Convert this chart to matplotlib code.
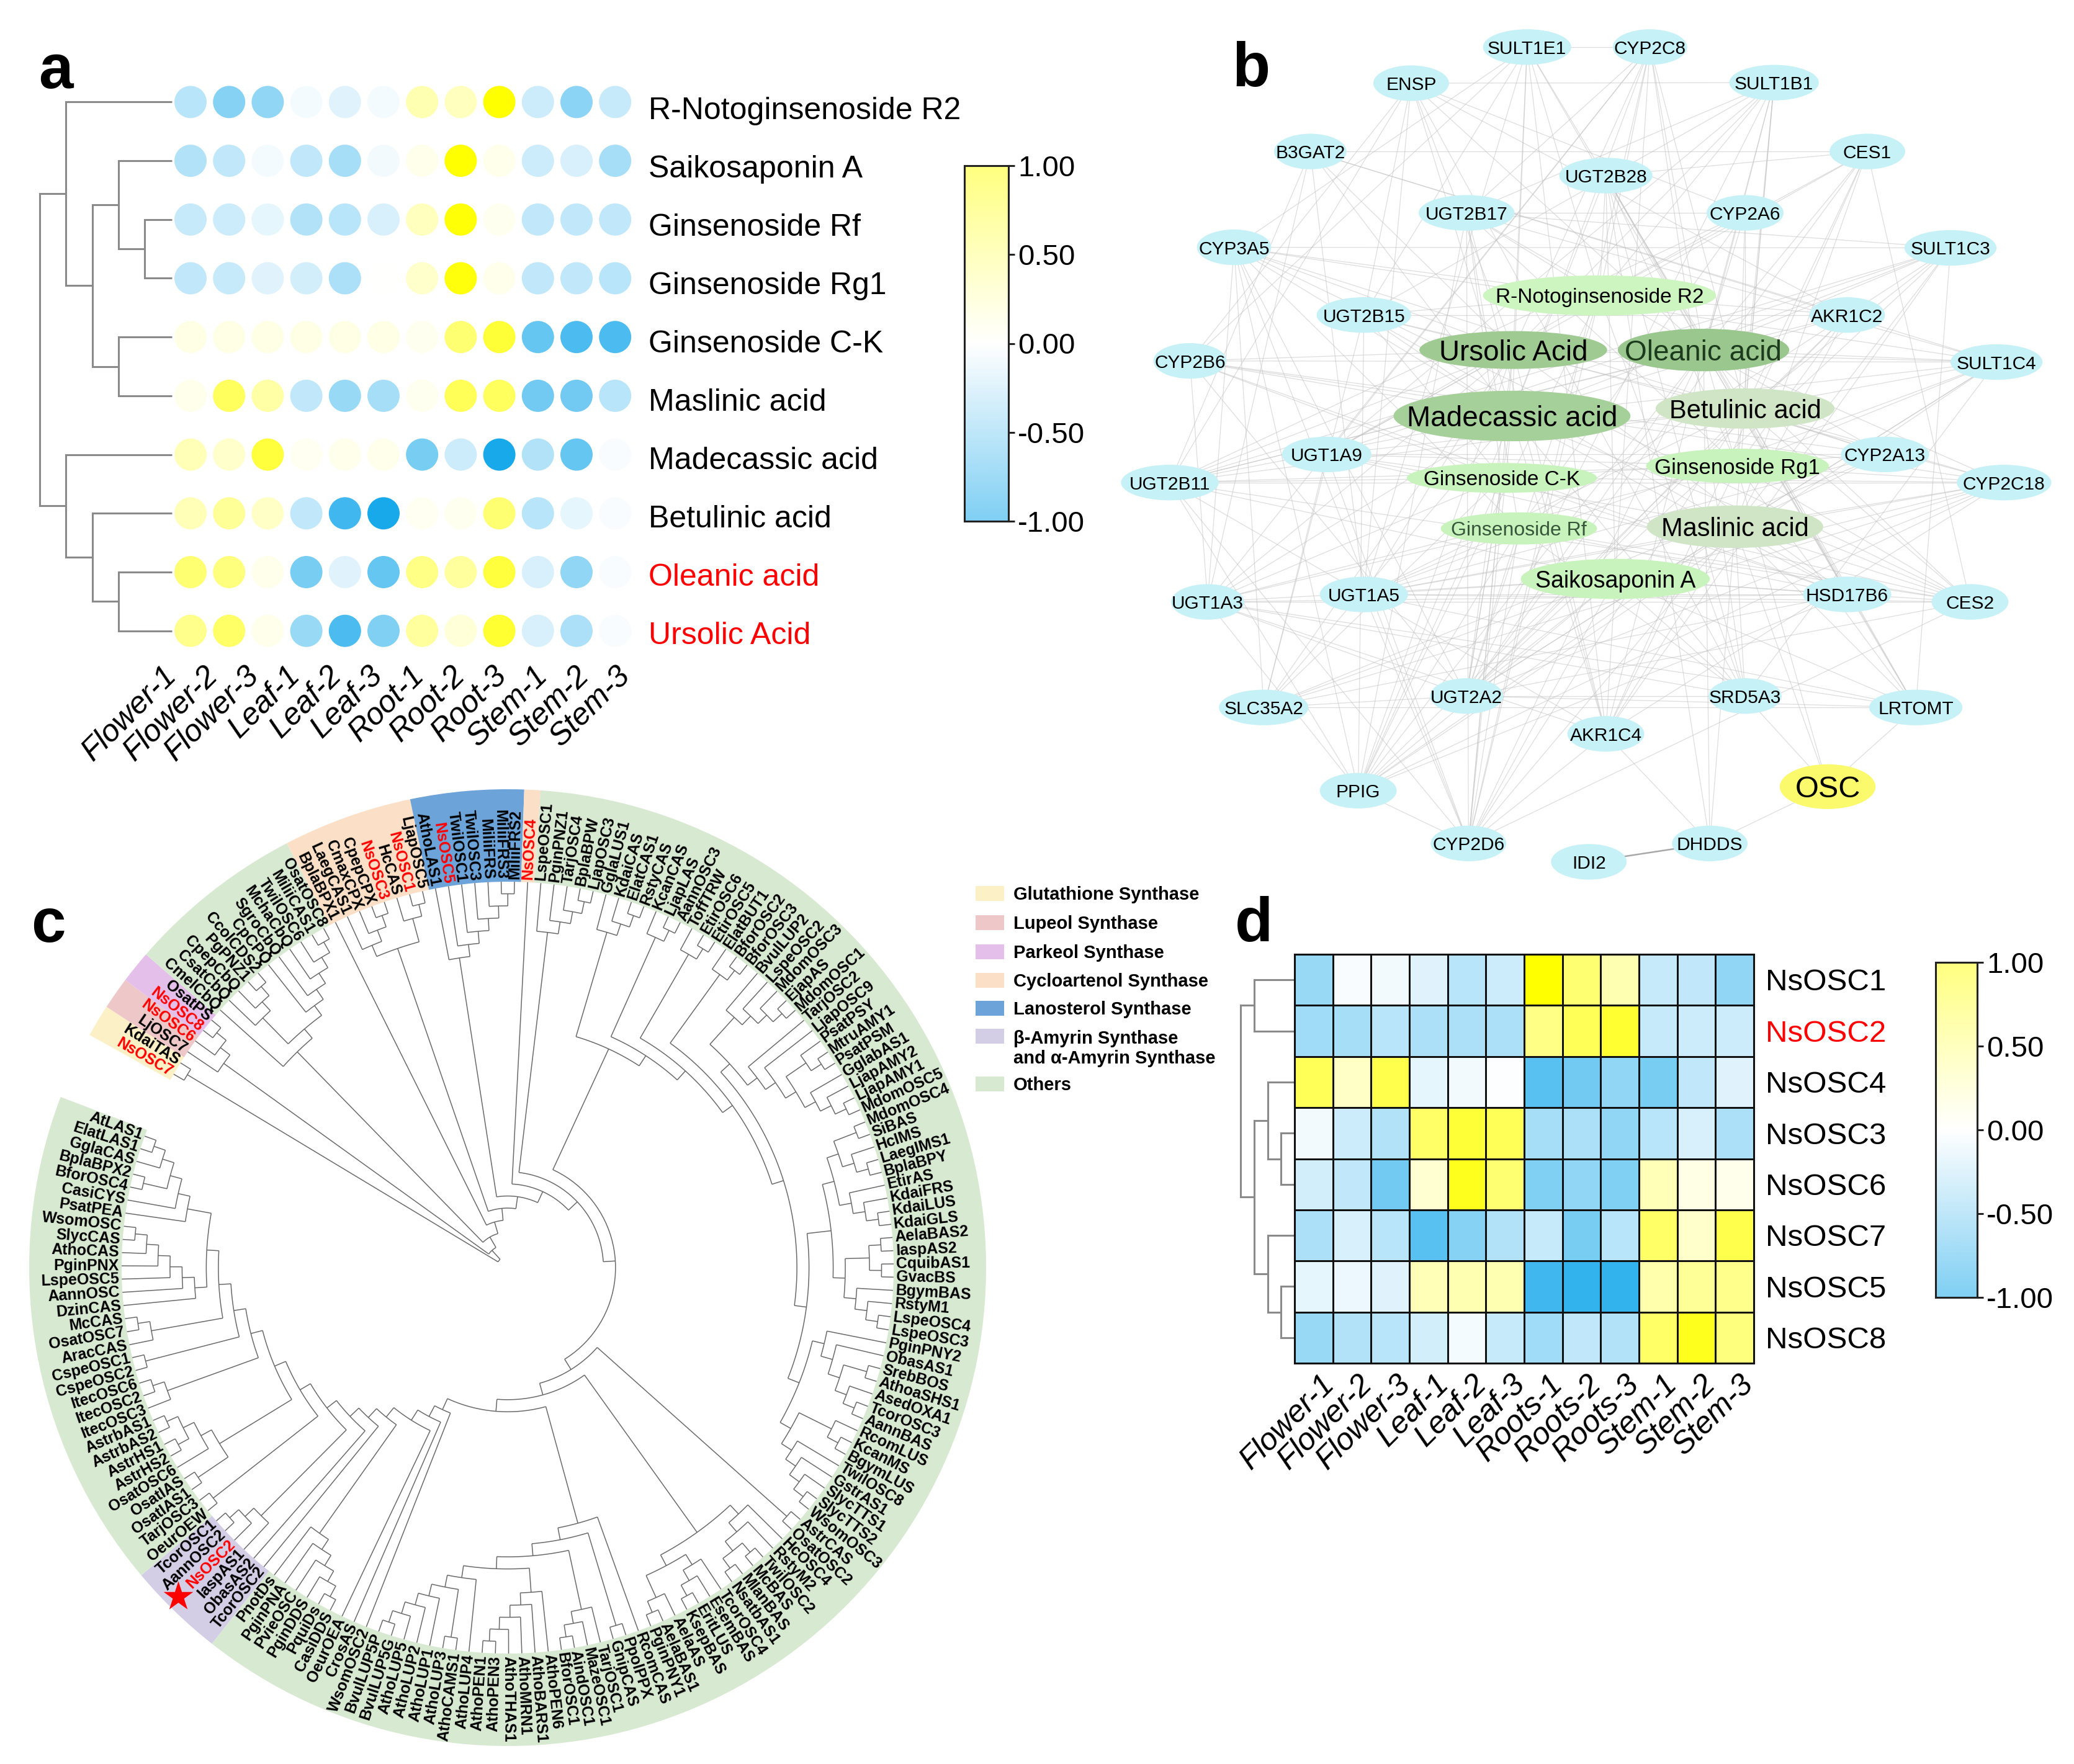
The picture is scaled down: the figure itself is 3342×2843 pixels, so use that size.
import re
import numpy as np
import matplotlib
matplotlib.use('Agg')
import matplotlib.pyplot as plt
from matplotlib.collections import LineCollection
from matplotlib.colors import LinearSegmentedColormap
from matplotlib.patches import Ellipse, Rectangle, Wedge

plt.rcParams['font.family'] = ['Liberation Sans', 'DejaVu Sans']

W, H = 3342, 2843
heat = LinearSegmentedColormap.from_list('heat', ['#00a0e9', '#ffffff', '#ffff00'])
VMIN, VMAX = -2, 2
BAR_TICKS = [1, 0.5, 0, -0.5, -1]
BAR_LABELS = ['1.00', '0.50', '0.00', '-0.50', '-1.00']

# panel a
tissues_a = ['Flower-1', 'Flower-2', 'Flower-3', 'Leaf-1', 'Leaf-2', 'Leaf-3',
             'Root-1', 'Root-2', 'Root-3', 'Stem-1', 'Stem-2', 'Stem-3']
metabolites = ['R-Notoginsenoside R2', 'Saikosaponin A', 'Ginsenoside Rf', 'Ginsenoside Rg1',
               'Ginsenoside C-K', 'Maslinic acid', 'Madecassic acid', 'Betulinic acid',
               'Oleanic acid', 'Ursolic Acid']
notoginsenoside_r2 = [-.55, -.95, -.85, -.08, -.25, -.08, .6, .5, 2.0, -.4, -.9, -.45]
saikosaponin_a = [-.6, -.5, -.08, -.5, -.7, -.1, .15, 2.0, .15, -.4, -.3, -.7]
ginsenoside_rf = [-.45, -.4, -.2, -.6, -.55, -.3, .5, 1.95, .12, -.5, -.5, -.5]
ginsenoside_rg1 = [-.5, -.45, -.25, -.35, -.65, 0, .4, 1.9, .15, -.5, -.5, -.55]
ginsenoside_ck = [.2, .2, .2, .2, .2, .2, .12, 1.1, 1.55, -1.2, -1.4, -1.4]
maslinic_acid = [.15, 1.25, .7, -.5, -.8, -.7, .12, 1.3, 1.25, -1.1, -1.1, -.55]
madecassic_acid = [.55, .4, 1.5, .1, .15, .15, -1.05, -.4, -1.8, -.6, -1.2, -.05]
betulinic_acid = [.55, .8, .45, -.5, -1.5, -1.8, .1, .12, 1.1, -.55, -.2, -.05]
oleanic_acid = [1.1, 1.0, .15, -1.05, -.25, -1.2, .95, .75, 1.5, -.3, -.85, -.05]
ursolic_acid = [.9, 1.2, .15, -.8, -1.4, -1.0, .75, .3, 1.6, -.3, -.65, -.05]
tree_a = [[0, [[1, [2, 3]], [4, 5]]], [6, [7, [8, 9]]]]

# panel d
tissues_d = ['Flower-1', 'Flower-2', 'Flower-3', 'Leaf-1', 'Leaf-2', 'Leaf-3',
             'Roots-1', 'Roots-2', 'Roots-3', 'Stem-1', 'Stem-2', 'Stem-3']
genes_d = ['NsOSC1', 'NsOSC2', 'NsOSC4', 'NsOSC3', 'NsOSC6', 'NsOSC7', 'NsOSC5', 'NsOSC8']
nsosc1 = [-.8, -.05, -.1, -.25, -.55, -.4, 2.0, 1.1, .6, -.45, -.5, -.85]
nsosc2 = [-.75, -.7, -.55, -.65, -.65, -.65, .95, 1.3, 1.6, -.45, -.4, -.4]
nsosc4 = [1.3, .45, 1.4, -.2, -.1, -.03, -1.3, -1.1, -.85, -1.05, -.5, -.25]
nsosc3 = [-.1, -.4, -.6, 1.2, 1.55, 1.3, -.7, -.65, -.85, -.55, -.3, -.65]
nsosc6 = [-.35, -.5, -1.1, .35, 1.75, 1.1, -1.0, -.85, -1.0, .55, .2, .15]
nsosc7 = [-.65, -.3, -.55, -1.3, -.95, -.6, -.45, -1.05, -.55, 1.2, .4, 1.4]
nsosc5 = [-.2, -.15, -.25, .55, .6, .6, -1.5, -1.6, -1.6, .65, .8, .9]
nsosc8 = [-.8, -.6, -.55, -.35, -.08, -.45, -.75, -.5, -.6, 1.2, 1.75, 1.0]
tree_d = [[0, 1], [[2, [3, 4]], [5, [6, 7]]]]

# panel b: name, layout x, y, width
target_nodes = [
    ('SULT1E1', 700, 82, 140), ('CYP2C8', 895, 82, 118), ('ENSP', 516, 145, 120),
    ('SULT1B1', 1092, 144, 142), ('B3GAT2', 356, 264, 115), ('CES1', 1240, 264, 120),
    ('UGT2B28', 825, 306, 148), ('UGT2B17', 604, 371, 152), ('CYP2A6', 1046, 371, 122),
    ('CYP3A5', 235, 431, 118), ('SULT1C3', 1372, 432, 146), ('UGT2B15', 441, 549, 150),
    ('AKR1C2', 1208, 549, 120), ('CYP2B6', 165, 629, 116), ('SULT1C4', 1445, 631, 146),
    ('UGT1A9', 382, 792, 142), ('CYP2A13', 1268, 792, 140), ('UGT2B11', 133, 841, 155),
    ('CYP2C18', 1457, 841, 150), ('UGT1A3', 193, 1049, 116), ('UGT1A5', 441, 1036, 140),
    ('HSD17B6', 1208, 1036, 140), ('CES2', 1403, 1049, 122), ('SLC35A2', 282, 1233, 142),
    ('UGT2A2', 604, 1213, 116), ('SRD5A3', 1046, 1213, 116), ('LRTOMT', 1317, 1233, 148),
    ('AKR1C4', 825, 1279, 122), ('PPIG', 432, 1378, 122), ('CYP2D6', 607, 1470, 120),
    ('DHDDS', 990, 1470, 120), ('IDI2', 798, 1502, 120)]
# name, x, y, width, height, fill, font size, text colour
compound_nodes = [
    ('R-Notoginsenoside R2', 815, 515, 370, 70, '#ccf5c0', 24, 'black'),
    ('Ursolic Acid', 678, 610, 298, 66, '#9fcb93', 33, 'black'),
    ('Oleanic acid', 980, 610, 272, 74, '#9ac78e', 33, '#1c3a1c'),
    ('Madecassic acid', 676, 725, 376, 88, '#a6d09a', 33, 'black'),
    ('Betulinic acid', 1046, 712, 284, 70, '#cfe5c6', 30, 'black'),
    ('Ginsenoside Rg1', 1034, 812, 290, 60, '#c8f3bc', 25, 'black'),
    ('Ginsenoside C-K', 660, 833, 302, 52, '#c8f3bc', 24, 'black'),
    ('Ginsenoside Rf', 687, 921, 248, 56, '#c8f3bc', 23, '#36563a'),
    ('Maslinic acid', 1030, 918, 280, 74, '#cfe5c6', 30, 'black'),
    ('Saikosaponin A', 840, 1009, 300, 70, '#c8f3bc', 27, 'black')]
osc_node = ('OSC', 1177, 1371, 152, 78)

r2_targets = 'UGT2B28 UGT2B17 CYP2C8 SULT1E1 SULT1B1 CES1 CYP2A6 AKR1C2 UGT1A9 UGT2A2 CYP2D6 PPIG UGT2B15 CYP3A5 SRD5A3'.split()
ursolic_targets = 'SULT1E1 ENSP B3GAT2 CYP3A5 CYP2B6 UGT2B11 UGT1A3 UGT1A5 UGT2A2 CYP2D6 PPIG SLC35A2 CYP2C8 SULT1B1 UGT2B15 UGT1A9 AKR1C4 HSD17B6 CYP2C18 SULT1C4'.split()
oleanic_targets = 'SULT1B1 CYP2C8 SULT1E1 CES1 SULT1C3 SULT1C4 CYP2A13 CYP2C18 HSD17B6 CES2 LRTOMT UGT2B28 CYP2A6 UGT2B17 ENSP UGT2A2 CYP2D6 UGT2B11 DHDDS PPIG'.split()
madecassic_targets = 'ENSP B3GAT2 CYP3A5 CYP2B6 UGT2B11 UGT1A3 SLC35A2 PPIG CYP2D6 UGT2A2 AKR1C4 SRD5A3 HSD17B6 CES2 SULT1C3 SULT1C4 AKR1C2 CYP2C8 SULT1E1 UGT2B28 UGT2B15'.split()
betulinic_targets = 'CYP2C8 SULT1B1 CES1 CYP2A6 SULT1C3 SULT1C4 CYP2C18 CYP2A13 CES2 LRTOMT HSD17B6 UGT1A9 UGT2B15 UGT2B11 UGT1A5 CYP2D6 UGT2A2 SULT1E1'.split()
rg1_targets = 'UGT2B28 UGT2B17 UGT1A9 UGT2B11 SULT1C4 CYP2C18 CES2 AKR1C2 CYP2A6 SULT1B1 AKR1C4 UGT1A3 LRTOMT'.split()
ck_targets = 'UGT2B15 UGT1A9 UGT2B11 CYP2B6 UGT1A3 CYP2D6 UGT2A2 PPIG SLC35A2 UGT2B17 CYP2C18 CYP2A13 HSD17B6'.split()
rf_targets = 'UGT2B17 UGT2A2 CYP2D6 UGT1A5 UGT1A3 PPIG SRD5A3 HSD17B6 CYP2A6 CYP3A5 SULT1C3 CES2'.split()
maslinic_targets = 'SULT1B1 CES1 SULT1C3 SULT1C4 AKR1C2 CYP2A13 CYP2C18 CES2 HSD17B6 LRTOMT DHDDS SRD5A3 AKR1C4 UGT1A5 UGT2B15 UGT1A9 UGT2A2 CYP2D6 PPIG'.split()
saiko_targets = 'UGT2A2 UGT1A5 UGT1A3 CYP2D6 PPIG SLC35A2 AKR1C4 SRD5A3 LRTOMT CES2 HSD17B6 CYP2C18 UGT2B11 UGT2B28 CYP2C8'.split()
chord_links = ('UGT1A3-CES2 UGT2B11-CYP2C18 CYP2B6-SULT1C4 UGT1A5-HSD17B6 UGT1A9-CYP2A13 UGT2B15-AKR1C2 '
               'UGT2B17-CYP2A6 CYP3A5-SULT1C3 B3GAT2-CES1 ENSP-SULT1B1 SULT1E1-CYP2C8 SLC35A2-LRTOMT '
               'UGT2A2-SRD5A3 PPIG-CYP2D6 PPIG-UGT2B17 PPIG-UGT2B15 CYP2D6-UGT2B17 CYP2D6-UGT1A9 CYP2D6-UGT1A5 '
               'CYP2D6-CYP2C8 SLC35A2-UGT1A9 SLC35A2-UGT2B15 SLC35A2-CYP3A5 UGT1A3-CYP2B6 UGT1A3-CYP3A5 '
               'UGT1A3-B3GAT2 UGT2B11-B3GAT2 UGT2B11-ENSP CYP2B6-ENSP CYP2B6-SULT1E1 CYP3A5-SULT1E1 '
               'B3GAT2-UGT1A5 ENSP-UGT1A5 ENSP-UGT2B15 SULT1E1-UGT2B15 CYP2C8-UGT2B17 CYP2C8-SRD5A3 '
               'SULT1B1-UGT2B17 SULT1B1-UGT1A9 SULT1B1-AKR1C4 CES1-UGT2B28 CES1-AKR1C4 CES1-CES2 '
               'SULT1C3-LRTOMT SULT1C3-UGT2A2 SULT1C3-AKR1C4 SULT1C4-UGT2A2 SULT1C4-SRD5A3 SULT1C4-PPIG '
               'CYP2C18-AKR1C4 CYP2C18-UGT1A5 CYP2C18-PPIG CES2-CYP2D6 CES2-UGT2A2 LRTOMT-UGT2A2 LRTOMT-UGT1A3 '
               'HSD17B6-UGT2B28 HSD17B6-UGT1A3 AKR1C2-UGT2A2 AKR1C2-PPIG CYP2A13-UGT1A5 CYP2A13-SLC35A2 '
               'DHDDS-UGT2B28 DHDDS-AKR1C4 AKR1C4-CYP2D6 AKR1C4-UGT2B17 SRD5A3-UGT2B28 '
               'UGT2B11-SULT1C3 UGT2B11-AKR1C2 UGT2B11-CYP2A6 UGT2B11-CES2 CYP2B6-CYP2A13 CYP2B6-CYP2C18 '
               'CYP2B6-HSD17B6 CYP3A5-CYP2A13 CYP3A5-SULT1C4 CYP3A5-CES2 B3GAT2-SULT1C4 B3GAT2-AKR1C2 '
               'ENSP-CYP2A6 ENSP-AKR1C2 ENSP-SRD5A3 SULT1E1-AKR1C4 SULT1E1-UGT1A5 CYP2C8-UGT1A9 CYP2C8-UGT1A3 '
               'SULT1B1-UGT2A2 SULT1B1-UGT2B15 CES1-UGT1A9 CES1-UGT2A2 SULT1C3-UGT1A9 SULT1C3-UGT2B17 '
               'SULT1C4-UGT1A5 SULT1C4-UGT2B17 CYP2C18-UGT2A2 CES2-UGT1A9 LRTOMT-UGT1A5 LRTOMT-UGT2B28 '
               'SRD5A3-UGT1A3 AKR1C4-UGT1A3 AKR1C4-UGT2B11 UGT2A2-CYP2B6 UGT2A2-CYP3A5 PPIG-UGT1A3 PPIG-CYP3A5 '
               'PPIG-UGT2B11 PPIG-HSD17B6 CYP2D6-UGT2B11 CYP2D6-CYP3A5 SLC35A2-UGT2A2 SLC35A2-CYP2C18 '
               'SLC35A2-HSD17B6 UGT1A3-UGT2A2 UGT1A5-CES2').split()
osc_links = ['SRD5A3', 'DHDDS', 'Maslinic acid', 'Oleanic acid', 'LRTOMT']

# panel c: clockwise from NsOSC7
G1 = '(NsOSC7,KdaiTAS)'
G2 = '(LjOSC7,(NsOSC6,(NsOSC8,OsatPS)))'
G3 = ('(CmelCbQ,((CsatCbQ,(CpepCbQ,(PgPNZ1,CcolCDS2))),'
      '(CpCPQ,(SgroCbQ,(MchaCbQ,(TwilOSC6,(MiliiCAS1,OsatOSC8)))))))')
CYC = '((LaegCAS1,(CmaxCPX,(CpepCPX,NsOSC3))),(HcCAS,(NsOSC1,LjapOSC5)))'
LANO = '(AthoLAS1,(NsOSC5,(TwilOSC1,(TwilOSC3,(MiliiFRS,(MiliiFRS3,MiliiFRS2))))))'
LSPE = '(LspeOSC1,(PginPNZ1,(TarjOSC4,(BplaBPW,LjapOSC3))))'
XA = '(GglaLUS1,(KdaiCAS,(ElatCAS1,RstyCAS)))'
XB = '(KcanCAS,(LjapLAS,AannOSC3))'
XC = '(ToffTRW,(EtirOSC6,EtirOSC5))'
XD = '(ElatBUT1,(BforOSC2,BforOSC3))'
XE = ('((BvulLUP2,(LspeOSC2,(MdomOSC3,(EjapAS,MdomOSC1)))),'
      '(TarjOSC2,(LjapOSC9,((PsatPSY,(MtruAMY1,PsatPSM)),(GglabAS1,(LjapAMY2,(LjapAMY1,MdomOSC5)))))))')
TA = ('((((MdomOSC4,SiBAS),(HcIMS,(LaegIMS1,BplaBPY))),(EtirAS,(KdaiFRS,(KdaiLUS,KdaiGLS)))),'
      '(((AelaBAS2,IaspAS2),(CquibAS1,GvacBS)),(BgymBAS,(RstyM1,(LspeOSC4,LspeOSC3)))))')
TB = '(PginPNY2,(ObasAS1,((SrebBOS,AthoaSHS1),(AsedOXA1,(TcorOSC3,AannBAS)))))'
TC = '((RcomLUS,(KcanMS,BgymLUS)),(TwilOSC8,(GstrAS1,(SlycTTS1,(SlycTTS2,WsomOSC3)))))'
V1 = '(AstrCAS,OsatOSC2)'
V2 = ('((HcOSC4,(RstyM2,((TwilOSC2,McBAS),(MlanBAS,NsatbAS1)))),'
      '((TcorOSC4,(EsemBAS,(EritLUS,KsepBAS))),(AelaAS,(AelaBAS1,PginPNY1))))')
TARJ = '(TarjOSC1,(MazeOSC1,(AindOSC1,BforOSC1)))'
PEN = '(AthoPEN6,(AthoBARS1,(AthoMRN1,(AthoTHAS1,(AthoPEN3,AthoPEN1)))))'
LUP = '(AthoLUP4,((AthoCAMS1,AthoLUP3),(AthoLUP1,(AthoLUP2,(AthoLUP5,(BvulLUP5G,BvulLUP5P))))))'
DDS = '(((((CasiDDS,PquiDs),PginDDS),PvieOSC),PginPNA),PnotDs)'
Z6 = '(IaspAS1,(NsOSC2,(AannOSC2,TcorOSC1)))'
Z7 = '(OeurOEW,TarjOSC3)'
Z8 = '((OsatIAS1,OsatIAS),(OsatOSC6,((AstrHS2,AstrHS1),(AstrbAS2,AstrbAS1))))'
Z9 = '(ItecOSC3,(ItecOSC2,ItecOSC6))'
Z10 = '(CspeOSC2,CspeOSC1)'
Z11 = '(AracCAS,(OsatOSC7,McCAS))'
Z12 = '(DzinCAS,(AannOSC,(LspeOSC5,(PginPNX,(AthoCAS,(SlycCAS,WsomOSC))))))'
Z13 = '(PsatPEA,(CasiCYS,((BforOSC4,BplaBPX2),(GglaCAS,(ElatLAS1,AtLAS1)))))'

left_clade = (f'(WsomOSC2,(CrosAS,(OeurOEA,({DDS},(TcorOSC2,(ObasAS2,({Z6},({Z7},({Z8},({Z9},({Z10},({Z11},'
              f'({Z12},{Z13})))))))))))))')
bottom_clade = f'(RcomCAS,((PpolPPX,GnipCAS),({TARJ},({PEN},{LUP}))))'
upper_clade = f'({XA},({XB},({XC},({XD},({XE},({TA},({TB},{TC})))))))'
main_clade = f'(NsOSC4,({LSPE},({upper_clade},({V1},({V2},({bottom_clade},{left_clade}))))))'
tree_c = f'({G1},({G2},({G3},(BplaBPX1,({CYC},({LANO},{main_clade}))))))'

glutathione = ['NsOSC7', 'KdaiTAS']
lupeol = ['LjOSC7', 'NsOSC6']
parkeol = ['NsOSC8', 'OsatPS']
cycloartenol = ['BplaBPX1', 'LaegCAS1', 'CmaxCPX', 'CpepCPX', 'NsOSC3', 'HcCAS', 'NsOSC1', 'LjapOSC5', 'NsOSC4']
lanosterol = ['AthoLAS1', 'NsOSC5', 'TwilOSC1', 'TwilOSC3', 'MiliiFRS', 'MiliiFRS3', 'MiliiFRS2']
amyrin = ['TcorOSC2', 'ObasAS2', 'IaspAS1', 'NsOSC2', 'AannOSC2', 'TcorOSC1']
legend_names = ['Glutathione Synthase', 'Lupeol Synthase', 'Parkeol Synthase', 'Cycloartenol Synthase',
                'Lanosterol Synthase', 'β-Amyrin Synthase\nand α-Amyrin Synthase', 'Others']
legend_colors = ['#fcf0c6', '#eec8c8', '#e4bfea', '#fbdfc6', '#6ca3d8', '#d3cde6', '#d8e9d2']


def box(x0, y0, x1, y1):
    return fig.add_axes([x0 / W, 1 - y1 / H, (x1 - x0) / W, (y1 - y0) / H])


def dendro(ax, node, xs, color='#8a8a8a', lw=2.2, depth=0):
    # xs[depth] is where a node at this depth sits, xs[-1] is the leaf line
    if not isinstance(node, list):
        return xs[-1], node
    a = dendro(ax, node[0], xs, color, lw, depth + 1)
    b = dendro(ax, node[1], xs, color, lw, depth + 1)
    x = xs[depth]
    ax.plot([a[0], x, x, b[0]], [a[1], a[1], b[1], b[1]], color=color, lw=lw, clip_on=False,
            solid_capstyle='butt', solid_joinstyle='miter')
    return x, (a[1] + b[1]) / 2


def colorbar(x0, y0, x1, y1):
    ax = box(x0, y0, x1, y1)
    grad = np.linspace(1, -1, 256)[:, None]
    ax.imshow(grad, cmap=heat, vmin=VMIN, vmax=VMAX, extent=[0, 1, -1, 1], aspect='auto')
    ax.set_xticks([])
    ax.set_ylim(-1, 1)
    ax.yaxis.tick_right()
    ax.set_yticks(BAR_TICKS)
    ax.set_yticklabels(BAR_LABELS)
    ax.tick_params(axis='y', labelsize=34, length=7, width=2.2, pad=4, color='#222222')
    for s in ax.spines.values():
        s.set_linewidth(2.2)
        s.set_color('#222222')


fig = plt.figure(figsize=(W / 100, H / 100), dpi=100)

# a ---------------------------------------------------------------------------
ax = box(0, 80, 1040, 1060)
ax.set_xlim(-307 / 62.2, (1040 - 307) / 62.2)
ax.set_ylim((1060 - 164.4) / 94.7, (80 - 164.4) / 94.7)
ax.axis('off')
values_a = np.array([notoginsenoside_r2, saikosaponin_a, ginsenoside_rf, ginsenoside_rg1, ginsenoside_ck,
                     maslinic_acid, madecassic_acid, betulinic_acid, oleanic_acid, ursolic_acid])
cols, rows = np.meshgrid(range(12), range(10))
ax.scatter(cols, rows, c=values_a, cmap=heat, vmin=VMIN, vmax=VMAX, s=1400, linewidths=0)
dendro(ax, tree_a, [(p - 307) / 62.2 for p in (64, 106, 149, 191, 233, 277)])
colorbar(1554, 267, 1625, 840)

# d ---------------------------------------------------------------------------
ax = box(2086, 1538, 2826, 2197)
values_d = np.array([nsosc1, nsosc2, nsosc4, nsosc3, nsosc6, nsosc7, nsosc5, nsosc8])
ax.pcolormesh(values_d, cmap=heat, vmin=VMIN, vmax=VMAX, edgecolors='#111111', linewidth=2.0)
ax.set_ylim(8, 0)
ax.set_xticks([])
ax.set_yticks([])
for s in ax.spines.values():
    s.set_linewidth(2.2)
    s.set_color('#111111')
dendro(ax, tree_d, [(p - 2086) / 61.67 for p in (1999, 2021, 2043, 2064, 2086)])
ax.set_xlim(0, 12)
# leaves sit on cell centres
for ln in ax.lines:
    ln.set_ydata(np.array(ln.get_ydata()) + 0.5)
colorbar(3119, 1551, 3186, 2091)

# b ---------------------------------------------------------------------------
ax = box(1750, 0, 3342, 1450)
ax.set_xlim(0, 1568)
ax.set_ylim(1568, 0)
ax.axis('off')
pos = {n: (x, y) for n, x, y, w in target_nodes}
pos.update({c[0]: (c[1], c[2]) for c in compound_nodes})
pos['OSC'] = (osc_node[1], osc_node[2])
compound_targets = [r2_targets, ursolic_targets, oleanic_targets, madecassic_targets, betulinic_targets,
                    rg1_targets, ck_targets, rf_targets, maslinic_targets, saiko_targets]
compound_order = ['R-Notoginsenoside R2', 'Ursolic Acid', 'Oleanic acid', 'Madecassic acid', 'Betulinic acid',
                  'Ginsenoside Rg1', 'Ginsenoside C-K', 'Ginsenoside Rf', 'Maslinic acid', 'Saikosaponin A']
edges = [(pos[c], pos[t]) for c, ts in zip(compound_order, compound_targets) for t in ts]
edges += [(pos[p.split('-')[0]], pos[p.split('-')[1]]) for p in chord_links]
edges += [(pos['OSC'], pos[t]) for t in osc_links]
ax.add_collection(LineCollection(edges, colors='#c2c2c2', linewidths=0.9, alpha=0.55, zorder=1))
ax.plot(*zip(pos['IDI2'], pos['DHDDS']), color='#a8a8a8', lw=1.8, zorder=1)
for n, x, y, w in target_nodes:
    ax.add_patch(Ellipse((x, y), w, 62, fc='#c6f1f7', ec='none', zorder=2))
    ax.text(x, y, n, ha='center', va='center_baseline', fontsize=21.5, zorder=3)
for n, x, y, w, h, fc, fs, tc in compound_nodes:
    ax.add_patch(Ellipse((x, y), w, h, fc=fc, ec='none', zorder=2))
    ax.text(x, y, n, ha='center', va='center_baseline', fontsize=fs, color=tc, zorder=3)
ax.add_patch(Ellipse(pos['OSC'], osc_node[3], osc_node[4], fc='#fafa6c', ec='none', zorder=2))
ax.text(*pos['OSC'], 'OSC', ha='center', va='center_baseline', fontsize=35, zorder=3)

# c ---------------------------------------------------------------------------
CX, CY = 818, 2043
R_TIP, R_OUT, R_ROOT = 622, 771, 18
GAP_START, STEP = 150.9, (360 - 8.2) / 179


def parse(text):
    stack = [[]]
    for tok in re.findall(r'[(),]|[^(),\s]+', text):
        if tok == '(':
            stack.append([])
        elif tok == ')':
            top = stack.pop()
            stack[-1].append(top)
        elif tok != ',':
            stack[-1].append(tok)
    return stack[0][0]


def height(node):
    return 0 if isinstance(node, str) else 1 + max(height(c) for c in node)


root = parse(tree_c)
leaves = []
segments = []
r_step = (R_TIP - R_ROOT) / height(root)


def polar(t, r):
    return r * np.cos(np.radians(t)), r * np.sin(np.radians(t))


def layout(node):
    if isinstance(node, str):
        t = GAP_START - (len(leaves) + 0.5) * STEP
        leaves.append((node, t))
        return t, R_TIP
    kids = [layout(c) for c in node]
    r = R_TIP - r_step * height(node)
    for t, rk in kids:
        segments.append([polar(t, r), polar(t, rk)])
    arc = np.linspace(kids[0][0], kids[-1][0], 40)
    segments.append([polar(t, r) for t in arc])
    return (kids[0][0] + kids[-1][0]) / 2, r


layout(root)
ax = box(0, 1250, 1660, 2843)
ax.set_xlim(-CX, 1660 - CX)
ax.set_ylim(CY - 2843, CY - 1250)
ax.axis('off')


def band_color(name):
    for names, c in zip([glutathione, lupeol, parkeol, cycloartenol, lanosterol, amyrin], legend_colors):
        if name in names:
            return c
    return legend_colors[-1]


i = 0
while i < len(leaves):
    j = i
    while j + 1 < len(leaves) and band_color(leaves[j + 1][0]) == band_color(leaves[i][0]):
        j += 1
    hi = GAP_START - i * STEP
    lo = GAP_START - (j + 1) * STEP
    ax.add_patch(Wedge((0, 0), R_OUT, lo, hi, width=R_OUT - R_TIP, fc=band_color(leaves[i][0]), ec='none', zorder=1))
    i = j + 1
ax.add_collection(LineCollection(segments, colors='#6a6a6a', linewidths=1.1, zorder=2))
for name, t in leaves:
    x, y = polar(t, R_TIP + 4)
    right = np.cos(np.radians(t)) >= 0
    ax.text(x, y, name, rotation=t if right else t + 180, rotation_mode='anchor',
            ha='left' if right else 'right', va='center', fontsize=18, fontweight='bold',
            color='#ff0000' if name.startswith('NsOSC') else 'black', zorder=3)
star_t = dict(leaves)['NsOSC2']
ax.scatter(*polar(star_t, 750), marker='*', s=1300, color='#ff0000', linewidths=0, zorder=3)

# free text, legend ------------------------------------------------------------
ov = fig.add_axes([0, 0, 1, 1])
ov.set_xlim(0, W)
ov.set_ylim(H, 0)
ov.axis('off')
ov.patch.set_alpha(0)
for i, name in enumerate(metabolites):
    ov.text(1045, 174 + i * 94, name, fontsize=36, va='center_baseline',
            color='#ff0000' if name in ('Oleanic acid', 'Ursolic Acid') else 'black')
for i, name in enumerate(tissues_a):
    ov.text(277 + i * 66.5, 1082, name, fontsize=36, fontstyle='italic', rotation=45, rotation_mode='anchor',
            ha='right', va='center')
for i, name in enumerate(genes_d):
    ov.text(2845, 1579 + i * 82.4, name, fontsize=35.5, va='center_baseline',
            color='#ff0000' if name == 'NsOSC2' else 'black')
for i, name in enumerate(tissues_d):
    ov.text(2143 + i * 61.4, 2224, name, fontsize=36, fontstyle='italic', rotation=45, rotation_mode='anchor',
            ha='right', va='center')
for name, c, y in zip(legend_names, legend_colors, [1440, 1487, 1534, 1580, 1625, 1670, 1747]):
    ov.add_patch(Rectangle((1572, y - 12), 46, 24, fc=c, ec='none'))
    ov.text(1633, y + (20 if '\n' in name else 2), name, fontsize=21, fontweight='bold', va='center', linespacing=1.15)
for letter, x, y in [('a', 62, 142), ('b', 1985, 139), ('c', 50, 1518), ('d', 1990, 1517)]:
    ov.text(x, y, letter, fontsize=72, fontweight='bold', va='baseline')

fig.savefig('out.png', dpi=100)
